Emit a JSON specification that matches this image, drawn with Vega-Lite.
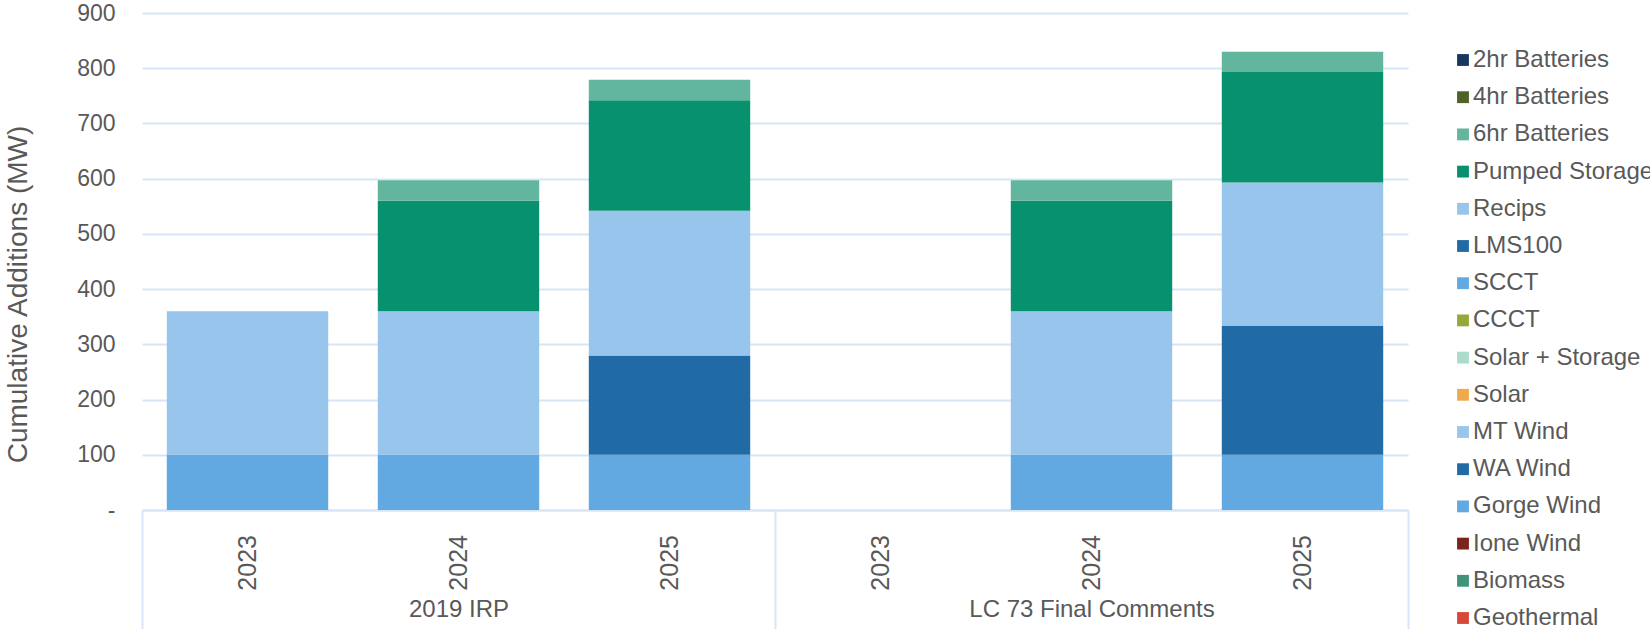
{
  "$schema": "https://vega.github.io/schema/vega-lite/v6.json",
  "autosize": {"type": "none"},
  "padding": {"left": 142, "top": 13, "right": 242, "bottom": 119},
  "width": 1266,
  "height": 497,
  "background": "white",
  "config": {
    "view": {"stroke": null},
    "font": "Liberation Sans"
  },
  "datasets": {
    "bars": [
      {"group": "2019 IRP", "year": "2023", "type": "Gorge Wind", "mw": 100},
      {"group": "2019 IRP", "year": "2023", "type": "MT Wind", "mw": 260},
      {"group": "2019 IRP", "year": "2024", "type": "Gorge Wind", "mw": 100},
      {"group": "2019 IRP", "year": "2024", "type": "MT Wind", "mw": 260},
      {"group": "2019 IRP", "year": "2024", "type": "Pumped Storage", "mw": 200},
      {"group": "2019 IRP", "year": "2024", "type": "6hr Batteries", "mw": 37},
      {"group": "2019 IRP", "year": "2025", "type": "Gorge Wind", "mw": 100},
      {"group": "2019 IRP", "year": "2025", "type": "WA Wind", "mw": 180},
      {"group": "2019 IRP", "year": "2025", "type": "MT Wind", "mw": 262},
      {"group": "2019 IRP", "year": "2025", "type": "Pumped Storage", "mw": 200},
      {"group": "2019 IRP", "year": "2025", "type": "6hr Batteries", "mw": 37},
      {"group": "LC 73 Final Comments", "year": "2024", "type": "Gorge Wind", "mw": 100},
      {"group": "LC 73 Final Comments", "year": "2024", "type": "MT Wind", "mw": 260},
      {"group": "LC 73 Final Comments", "year": "2024", "type": "Pumped Storage", "mw": 200},
      {"group": "LC 73 Final Comments", "year": "2024", "type": "6hr Batteries", "mw": 37},
      {"group": "LC 73 Final Comments", "year": "2025", "type": "Gorge Wind", "mw": 100},
      {"group": "LC 73 Final Comments", "year": "2025", "type": "WA Wind", "mw": 233},
      {"group": "LC 73 Final Comments", "year": "2025", "type": "MT Wind", "mw": 260},
      {"group": "LC 73 Final Comments", "year": "2025", "type": "Pumped Storage", "mw": 200},
      {"group": "LC 73 Final Comments", "year": "2025", "type": "6hr Batteries", "mw": 37}
    ],
    "series": [
      {"type": "2hr Batteries", "rank": 1},
      {"type": "4hr Batteries", "rank": 2},
      {"type": "6hr Batteries", "rank": 3},
      {"type": "Pumped Storage", "rank": 4},
      {"type": "Recips", "rank": 5},
      {"type": "LMS100", "rank": 6},
      {"type": "SCCT", "rank": 7},
      {"type": "CCCT", "rank": 8},
      {"type": "Solar + Storage", "rank": 9},
      {"type": "Solar", "rank": 10},
      {"type": "MT Wind", "rank": 11},
      {"type": "WA Wind", "rank": 12},
      {"type": "Gorge Wind", "rank": 13},
      {"type": "Ione Wind", "rank": 14},
      {"type": "Biomass", "rank": 15},
      {"type": "Geothermal", "rank": 16}
    ],
    "years": [
      {"group": "2019 IRP", "year": "2023"},
      {"group": "2019 IRP", "year": "2024"},
      {"group": "2019 IRP", "year": "2025"},
      {"group": "LC 73 Final Comments", "year": "2023"},
      {"group": "LC 73 Final Comments", "year": "2024"},
      {"group": "LC 73 Final Comments", "year": "2025"}
    ]
  },
  "encoding": {
    "x": {
      "field": "group",
      "type": "nominal",
      "sort": ["2019 IRP", "LC 73 Final Comments"],
      "scale": {"paddingInner": 0, "paddingOuter": 0},
      "axis": {
        "title": null,
        "labelAngle": 0,
        "labelFont": "Liberation Sans",
        "labelFontSize": 24,
        "labelColor": "#595959",
        "labelPadding": -32,
        "labelLimit": 800,
        "domain": true,
        "domainColor": "#d6e6f6",
        "domainWidth": 2,
        "ticks": true,
        "tickBand": "extent",
        "tickSize": 119,
        "tickColor": "#d6e6f6",
        "tickWidth": 2,
        "grid": false
      }
    },
    "xOffset": {
      "field": "year",
      "type": "nominal",
      "sort": ["2023", "2024", "2025"],
      "scale": {"paddingInner": 0.235, "paddingOuter": 0.1175}
    }
  },
  "layer": [
    {
      "data": {"name": "bars"},
      "transform": [
        {"lookup": "type", "from": {"data": {"name": "series"}, "key": "type", "fields": ["rank"]}}
      ],
      "mark": {"type": "bar"},
      "encoding": {
        "y": {
          "field": "mw",
          "type": "quantitative",
          "stack": "zero",
          "scale": {"domain": [0, 900], "nice": false},
          "axis": {
            "title": "Cumulative Additions (MW)",
            "titleFont": "Liberation Sans",
            "titleFontSize": 28,
            "titleFontWeight": "normal",
            "titleColor": "#595959",
            "titlePadding": 44,
            "titleY": 281,
            "values": [0, 100, 200, 300, 400, 500, 600, 700, 800, 900],
            "labelExpr": "datum.value === 0 ? '-\u00a0\u00a0' : datum.label",
            "labelFont": "Liberation Sans",
            "labelFontSize": 23,
            "labelColor": "#595959",
            "labelPadding": 27,
            "domain": false,
            "ticks": false,
            "grid": true,
            "gridColor": "#d6e6f6",
            "gridWidth": 2
          }
        },
        "order": {"field": "rank", "type": "quantitative", "sort": "descending"},
        "color": {
          "field": "type",
          "type": "nominal",
          "scale": {
            "domain": ["2hr Batteries", "4hr Batteries", "6hr Batteries", "Pumped Storage", "Recips", "LMS100", "SCCT", "CCCT", "Solar + Storage", "Solar", "MT Wind", "WA Wind", "Gorge Wind", "Ione Wind", "Biomass", "Geothermal"],
            "range": ["#17375e", "#4f6228", "#63b69e", "#08916f", "#97c5eb", "#206ba5", "#62a8e1", "#95a83a", "#abdccb", "#f1a94e", "#97c5eb", "#206ba5", "#62a8e1", "#7c2419", "#3f937a", "#d9463a"]
          },
          "legend": {
            "title": null,
            "orient": "none",
            "legendX": 1309,
            "legendY": 35,
            "padding": 0,
            "symbolType": "square",
            "symbolSize": 140,
            "symbolStrokeWidth": 0,
            "symbolOpacity": 1,
            "labelFont": "Liberation Sans",
            "labelFontSize": 24,
            "labelColor": "#595959",
            "labelOffset": -2,
            "rowPadding": 13.2,
            "labelLimit": 400
          }
        }
      }
    },
    {
      "data": {"name": "years"},
      "mark": {
        "type": "text",
        "angle": 270,
        "align": "right",
        "baseline": "middle",
        "dx": -25,
        "font": "Liberation Sans",
        "fontSize": 25,
        "color": "#595959"
      },
      "encoding": {
        "y": {"datum": 0, "type": "quantitative"},
        "text": {"field": "year", "type": "nominal"}
      }
    }
  ]
}
